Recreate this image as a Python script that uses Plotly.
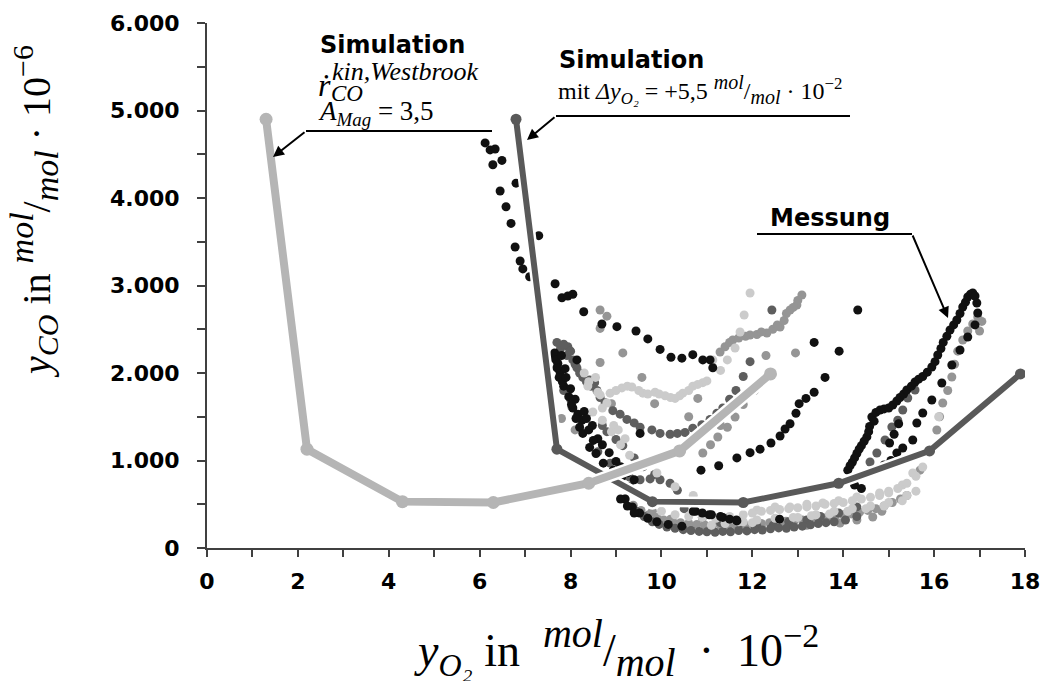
import plotly.graph_objects as go

# ---------------- data ----------------
# Simulation (Westbrook, A_Mag = 3,5)
sim_x = [1.3, 2.2, 4.3, 6.3, 8.4, 10.4, 12.4]
sim_y = [4900, 1130, 530, 520, 740, 1110, 1990]
# Simulation shifted by +5,5 mol/mol 10^-2
simshift_x = [6.8, 7.7, 9.8, 11.8, 13.9, 15.9, 17.9]
simshift_y = [4900, 1130, 530, 520, 740, 1110, 1990]

# Messung - black points (upper arc)
mb1_x = [6.12, 6.23, 6.34, 6.29, 6.49, 6.80, 6.45, 6.58, 6.69, 6.78, 6.89, 6.95, 7.10, 7.30, 7.66, 7.81,
         7.94, 8.05, 8.29, 8.69, 9.02, 9.44, 9.70, 9.97, 10.21, 10.45, 10.69, 10.91, 11.07, 11.13, 13.36, 14.32]
mb1_y = [4630, 4550, 4560, 4380, 4430, 4170, 4080, 3900, 3710, 3440, 3280, 3190, 3100, 3570, 3020, 2860,
         2880, 2900, 2700, 2560, 2530, 2480, 2390, 2270, 2180, 2170, 2210, 2150, 2150, 2060, 2350, 2720]
# black points (lower arc)
mb2_x = [9.53, 10.87, 11.26, 11.66, 11.95, 12.17, 12.41, 12.61, 12.72, 12.83, 12.96, 13.03, 13.18, 13.36, 13.60, 13.91]
mb2_y = [1310, 890, 940, 1030, 1090, 1130, 1200, 1280, 1360, 1420, 1540, 1650, 1710, 1780, 1950, 2250]
# black points (cluster and descending band)
mb3_x = [7.61, 7.72, 7.77, 7.88, 8.14, 7.85, 7.96, 8.05, 8.16, 8.25, 8.20, 8.27, 8.48, 8.42, 8.56, 8.72,
         8.94, 9.12, 9.30, 9.20, 9.36, 9.52, 9.70, 9.90, 10.15, 10.45, 10.75, 11.05, 11.35, 11.65, 12.60,
         7.65, 7.70, 7.75, 7.82, 7.90, 7.68, 7.80, 8.00, 8.10, 8.02, 8.30, 8.35, 8.12, 8.40, 8.60, 8.70,
         8.50, 8.85, 9.00, 9.10, 9.25, 9.40, 9.10, 9.25, 9.40, 10.70, 10.90, 11.10, 11.30, 11.50, 11.66,
         14.25, 14.40]
mb3_y = [2180, 2110, 2010, 2050, 2150, 1850, 1730, 1600, 1530, 1460, 1380, 1310, 1400, 1150, 1080, 970,
         890, 800, 700, 560, 470, 400, 340, 300, 270, 250, 420, 380, 350, 320, 330,
         2230, 2060, 1950, 1900, 1950, 2150, 2200, 1820, 1700, 1640, 1560, 1480, 1480, 1350, 1250, 1180,
         1230, 1090, 990, 930, 860, 780, 560, 480, 400, 420, 400, 380, 360, 330, 310,
         720, 680]
# black points (right rising band)
mb4_x = [14.10, 14.20, 14.30, 14.40, 14.52, 14.58, 14.63, 14.72, 14.81, 14.90, 15.00, 15.09, 15.18, 15.25,
         15.33, 15.40, 15.50, 15.58, 15.66, 15.75, 15.85, 15.95, 16.02, 16.08, 16.15, 16.20, 16.28, 16.35,
         16.43, 16.50, 16.57, 16.63, 16.69, 16.74, 16.80, 16.85, 16.90, 16.94, 16.96,
         16.90, 16.74, 16.57, 16.39, 16.17, 15.95, 15.75, 15.62, 15.53, 15.31, 15.18, 15.05, 14.90,
         14.15, 14.25, 14.35, 14.46, 14.56, 14.68, 15.22, 15.12, 15.02]
mb4_y = [890, 980, 1080, 1170, 1270, 1390, 1497, 1550, 1577, 1590, 1600, 1634, 1680, 1720,
         1760, 1806, 1850, 1897, 1930, 1960, 2010, 2069, 2130, 2206, 2280, 2350, 2420, 2491,
         2550, 2606, 2680, 2754, 2810, 2869, 2900, 2914, 2880, 2800, 2686,
         2550, 2411, 2263, 2091, 1886, 1691, 1543, 1429, 1234, 1143, 1086, 1000, 950,
         940, 1030, 1130, 1220, 1330, 1450, 1420, 1300, 1200]

# dark grey points
md_x = [7.94, 7.99, 8.05, 8.14, 8.27, 8.42, 8.53, 8.58, 8.65, 8.76, 8.93, 9.09, 9.24,
        9.40, 9.53, 9.79, 9.97, 10.19, 10.35, 10.52, 10.69, 10.89, 11.07, 11.22, 11.35, 11.50, 11.64, 11.80, 11.95,
        12.43, 8.60, 8.87, 9.09, 9.30, 9.53, 9.75, 9.97, 10.19, 10.35,
        10.50, 10.90, 11.30, 11.73, 12.10, 12.46, 12.80, 13.20, 13.50, 13.90, 14.30,
        14.59, 14.74, 14.92, 15.07, 15.20, 15.31, 15.42, 15.58,
        7.70, 7.78, 7.85, 7.92, 8.00, 8.10, 8.20, 8.35, 8.45, 7.75, 7.85, 8.00,
        8.70, 8.80, 9.00, 9.15, 9.40, 9.60, 9.85,
        9.45, 9.62, 9.80, 9.95, 10.12, 10.30, 10.48, 10.65, 10.83, 11.00, 11.18, 11.35, 11.52, 11.70,
        11.88, 12.05, 12.22, 12.40, 12.58, 12.75, 12.92, 13.10, 13.28, 13.45, 13.62, 13.80, 14.05, 14.30]
md_y = [2300, 2250, 2150, 2060, 1950, 1920, 1890, 1800, 1720, 1660, 1570, 1530, 1470,
        1430, 1380, 1350, 1310, 1300, 1310, 1320, 1370, 1410, 1470, 1540, 1600, 1700, 1800, 1960, 2130,
        2720, 1100, 970, 880, 810, 780, 790, 780, 740, 660,
        450, 350, 290, 290, 250, 260, 300, 320, 360, 400, 470,
        983, 1086, 1234, 1383, 1460, 1577, 1714, 1806,
        2350, 2280, 2330, 2200, 2250, 2100, 2000, 1900, 1850, 2050, 1800, 1700,
        1400, 1330, 1240, 1170, 1030, 930, 840,
        420, 360, 300, 270, 240, 225, 210, 200, 190, 185, 180, 190, 185, 200,
        195, 210, 205, 220, 230, 225, 240, 250, 265, 280, 290, 300, 320, 360]

# mid grey points
mm_x = [8.65, 8.80, 8.65, 9.15, 8.65, 9.57, 8.03, 10.80, 11.29, 11.57, 11.95, 12.32, 12.61, 12.83, 12.98, 13.09,
        10.91, 11.08, 11.24, 11.45, 11.62, 11.80, 12.05,
        9.80, 10.20, 10.60, 11.00, 11.40, 11.73, 12.20, 12.70, 13.20, 13.93, 14.30, 14.65, 14.85, 15.40, 15.69, 15.95,
        16.06, 16.12, 16.19, 16.30, 16.39, 16.45, 16.52, 16.63, 16.74, 16.85, 16.96, 17.05, 17.00,
        11.40, 11.50, 11.70, 11.85, 12.10, 12.20, 12.45, 12.55, 12.70, 12.75, 12.90, 13.00,
        9.20, 9.38, 9.55, 9.72, 9.90, 10.05, 10.25, 10.42, 10.60, 10.78, 10.95, 11.12, 11.30, 11.48, 11.66,
        11.84, 12.02, 12.20, 12.38, 12.56, 12.74, 12.92, 13.10, 13.28, 13.46, 13.64, 13.82, 14.00, 14.18,
        14.36, 14.54, 14.72, 14.90, 15.08, 15.26,
        7.80, 8.10, 8.90, 9.85, 10.60, 11.30, 12.30, 12.95]
mm_y = [2720, 2650, 2510, 2230, 2120, 1950, 1610, 1710, 2240, 2377, 2434, 2457, 2526, 2720, 2777, 2891,
        1086, 1180, 1269, 1380, 1497, 1640, 1800,
        420, 330, 260, 230, 220, 240, 250, 270, 260, 286, 320, 354, 420, 600, 890, 1100,
        1349, 1500, 1657, 1800, 1954, 2100, 2250, 2377, 2480, 2560, 2640, 2590, 2480,
        2300, 2350, 2400, 2420, 2440, 2470, 2500, 2550, 2600, 2680, 2750, 2830,
        560, 490, 430, 380, 350, 320, 300, 290, 280, 270, 265, 260, 255, 260, 250,
        260, 270, 280, 290, 300, 305, 310, 320, 330, 340, 350, 360, 380, 390,
        410, 430, 450, 480, 520, 560,
        1480, 1350, 1650, 1650, 1500, 1400, 2200, 2230]

# light grey points
ml_x = [8.38, 8.55, 8.49, 8.60, 8.80, 8.87, 9.13, 9.35, 9.59, 9.86, 10.08, 10.30, 10.47, 10.69, 10.91, 11.13,
        11.30, 11.45, 11.62, 11.73, 11.82, 11.95,
        8.70, 8.90, 9.10, 9.30, 9.53, 9.90, 10.30, 10.70,
        11.50, 12.10, 12.50, 12.83, 13.20, 13.55, 13.90, 14.30, 14.80, 15.00, 15.30, 15.53, 15.75,
        11.80, 12.00, 12.60, 13.00, 13.40, 13.80, 14.20, 14.60, 15.00, 15.40, 16.10,
        9.00, 9.25, 9.50, 9.70, 9.95, 10.20, 10.40, 10.60, 10.80, 11.00,
        8.30, 8.40, 8.65, 8.70, 8.95, 9.05, 9.20,
        10.00, 10.30, 10.60, 10.90, 11.20, 11.50, 11.80, 12.00, 12.20, 12.40, 12.60, 12.80, 13.00, 13.20,
        13.40, 13.60, 13.80, 14.00, 14.20, 14.40, 14.60, 14.80, 15.00, 15.20, 15.40, 15.60,
        11.10, 11.40, 11.70, 12.10, 12.50, 12.90, 13.30, 13.70, 14.10, 14.50, 14.90, 15.30, 15.60]
ml_y = [1851, 1950, 1554, 1780, 1657, 1770, 1830, 1840, 1770, 1780, 1740, 1710, 1770, 1850, 1890, 2149,
        2030, 2150, 2286, 2469, 2663, 2914,
        1460, 1330, 1180, 1060, 926, 857, 700, 600,
        330, 434, 470, 470, 500, 514, 540, 583, 629, 650, 720, 857, 926,
        300, 290, 330, 350, 380, 420, 450, 480, 520, 600, 1500,
        1800, 1850, 1800, 1760, 1760, 1720, 1740, 1800, 1870, 1910,
        2000, 1900, 1750, 1600, 1400, 1350, 1250,
        420, 380, 360, 350, 340, 360, 380, 400, 420, 430, 440, 450, 460, 470,
        480, 500, 510, 520, 540, 560, 580, 600, 630, 680, 740, 820,
        260, 280, 300, 320, 340, 350, 370, 390, 420, 450, 480, 540, 650]

y_ticks = [0, 500, 1000, 1500, 2000, 2500, 3000, 3500, 4000, 4500, 5000, 5500, 6000]
y_ticktext = ["0", "", "1.000", "", "2.000", "", "3.000", "", "4.000", "", "5.000", "", "6.000"]
x_ticks = list(range(0, 19))
x_ticktext = [str(v) if v % 2 == 0 else "" for v in x_ticks]

BLACK = "#111111"
DARK = "#5e5e5e"
MID = "#959595"
LIGHT = "#cbcbcb"
SIM_LIGHT = "#b5b5b5"
SIM_DARK = "#595959"

# plot area in pixels (for placing annotations)
L, R, T, B = 207, 1025, 23, 548
XMAX, YMAX = 18.0, 6000.0


def dx(px):
    return (px - L) / (R - L) * XMAX


def dy(py):
    return (B - py) / (B - T) * YMAX


fig = go.Figure()


def pts(x, y, color, size=9):
    fig.add_trace(go.Scatter(x=x, y=y, mode="markers",
                             marker=dict(color=color, size=size, line=dict(width=0)),
                             showlegend=False, hoverinfo="skip"))


pts(mm_x, mm_y, MID)
pts(md_x, md_y, DARK)
pts(ml_x, ml_y, LIGHT)
pts(mb3_x, mb3_y, BLACK)
pts(mb1_x, mb1_y, BLACK)
pts(mb2_x, mb2_y, BLACK)
pts(mb4_x, mb4_y, BLACK)


def simline(x, y, color, w, ms):
    fig.add_trace(go.Scatter(x=x, y=y, mode="lines+markers",
                             line=dict(color="white", width=w + 5),
                             marker=dict(color="white", size=ms + 5),
                             showlegend=False, hoverinfo="skip"))
    fig.add_trace(go.Scatter(x=x, y=y, mode="lines+markers",
                             line=dict(color=color, width=w),
                             marker=dict(color=color, size=ms),
                             showlegend=False, hoverinfo="skip"))


simline(simshift_x, simshift_y, SIM_DARK, 6, 11)
simline(sim_x, sim_y, SIM_LIGHT, 8, 13)

# ---------------- annotations ----------------
BOLD = dict(family="DejaVu Sans", size=24, color="black", weight="bold")
SERIF = "Liberation Serif"
NB = "\u00a0"
ann = []


def txt(px, py, text, font, xanchor="left"):
    ann.append(dict(x=dx(px), y=dy(py), xref="x", yref="y", text=text, showarrow=False,
                    xanchor=xanchor, yanchor="middle", font=font))


def s(t, size):
    return '<span style="font-size:%dpx">%s</span>' % (size, t)


txt(318, 45, "Simulation", BOLD)
txt(316, 85, "<i>ṙ</i>", dict(family=SERIF, size=32, color="black"))
txt(330, 71, "<i>kin,Westbrook</i>", dict(family=SERIF, size=26, color="black"))
txt(329, 93, "<i>CO</i>", dict(family=SERIF, size=23, color="black"))
txt(316, 113, "<i>A</i><sub><i>Mag</i></sub> = 3,5", dict(family=SERIF, size=27, color="black"))
txt(557, 60, "Simulation", BOLD)
txt(556, 89, "mit <i>Δy</i><sub><i>O₂</i></sub> = +5,5 <sup><i>" + s("mol", 20) + "</i></sup>/<sub><i>"
    + s("mol", 20) + "</i></sub> · 10<sup>−2</sup>",
    dict(family=SERIF, size=24, color="black"))
txt(768, 218, "Messung", BOLD)

# leader arrows (tip, tail) in pixels
for tip, tail in [((273, 157), (306, 131)), ((527, 140), (556, 116)), ((948, 318), (912, 234))]:
    ann.append(dict(x=dx(tip[0]), y=dy(tip[1]), ax=dx(tail[0]), ay=dy(tail[1]),
                    xref="x", yref="y", axref="x", ayref="y",
                    text="", showarrow=True, arrowhead=2, arrowsize=1.1, arrowwidth=2, arrowcolor="black"))

# axis titles
ann.append(dict(x=(616 - L) / (R - L), y=(B - 648) / (B - T), xref="paper", yref="paper",
                text="<i>y</i><sub><i>" + s("O₂", 32) + "</i></sub> in " + NB + "<sup><i>" + s("mol", 40)
                     + "</i></sup>/<sub><i>" + s("mol", 40) + "</i></sub>" + NB + " · " + NB + "10<sup>"
                     + s("−2", 34) + "</sup>",
                showarrow=False, xanchor="center", yanchor="middle",
                font=dict(family=SERIF, size=46, color="black")))
ann.append(dict(x=(34 - L) / (R - L), y=(B - 212) / (B - T), xref="paper", yref="paper", textangle=-90,
                text="<i>y</i><sub><i>" + s("CO", 30) + "</i></sub> in <sup><i>" + s("mol", 34)
                     + "</i></sup>/<sub><i>" + s("mol", 34) + "</i></sub> · 10<sup>" + s("−6", 30) + "</sup>",
                showarrow=False, xanchor="center", yanchor="middle",
                font=dict(family=SERIF, size=40, color="black")))

shapes = []
for x0, x1, py in [(306, 492, 131), (556, 850, 116), (757, 912, 234)]:
    shapes.append(dict(type="line", xref="x", yref="y", x0=dx(x0), y0=dy(py), x1=dx(x1), y1=dy(py),
                       line=dict(color="black", width=2)))

fig.update_layout(
    width=1046, height=681,
    margin=dict(l=L, r=1046 - R, t=T, b=681 - B, autoexpand=False),
    paper_bgcolor="white", plot_bgcolor="white",
    annotations=ann, shapes=shapes,
    xaxis=dict(range=[0, XMAX], tickvals=x_ticks, ticktext=x_ticktext, showgrid=False, zeroline=False,
               automargin=False,
               showline=True, linecolor="#404040", linewidth=2, ticks="outside", ticklen=7,
               tickwidth=2, tickcolor="#404040", ticklabelstandoff=6,
               tickfont=dict(family="DejaVu Sans", size=22, color="black", weight="bold")),
    yaxis=dict(range=[0, YMAX], tickvals=y_ticks, ticktext=y_ticktext, showgrid=False, zeroline=False,
               automargin=False,
               showline=True, linecolor="#404040", linewidth=2, ticks="outside", ticklen=8,
               tickwidth=2, tickcolor="#404040", ticklabelstandoff=13,
               tickfont=dict(family="DejaVu Sans", size=22, color="black", weight="bold")),
)

fig.write_html("out.html", config={"displayModeBar": False},
               post_script="document.body.style.margin='0';document.body.style.overflow='hidden';")
